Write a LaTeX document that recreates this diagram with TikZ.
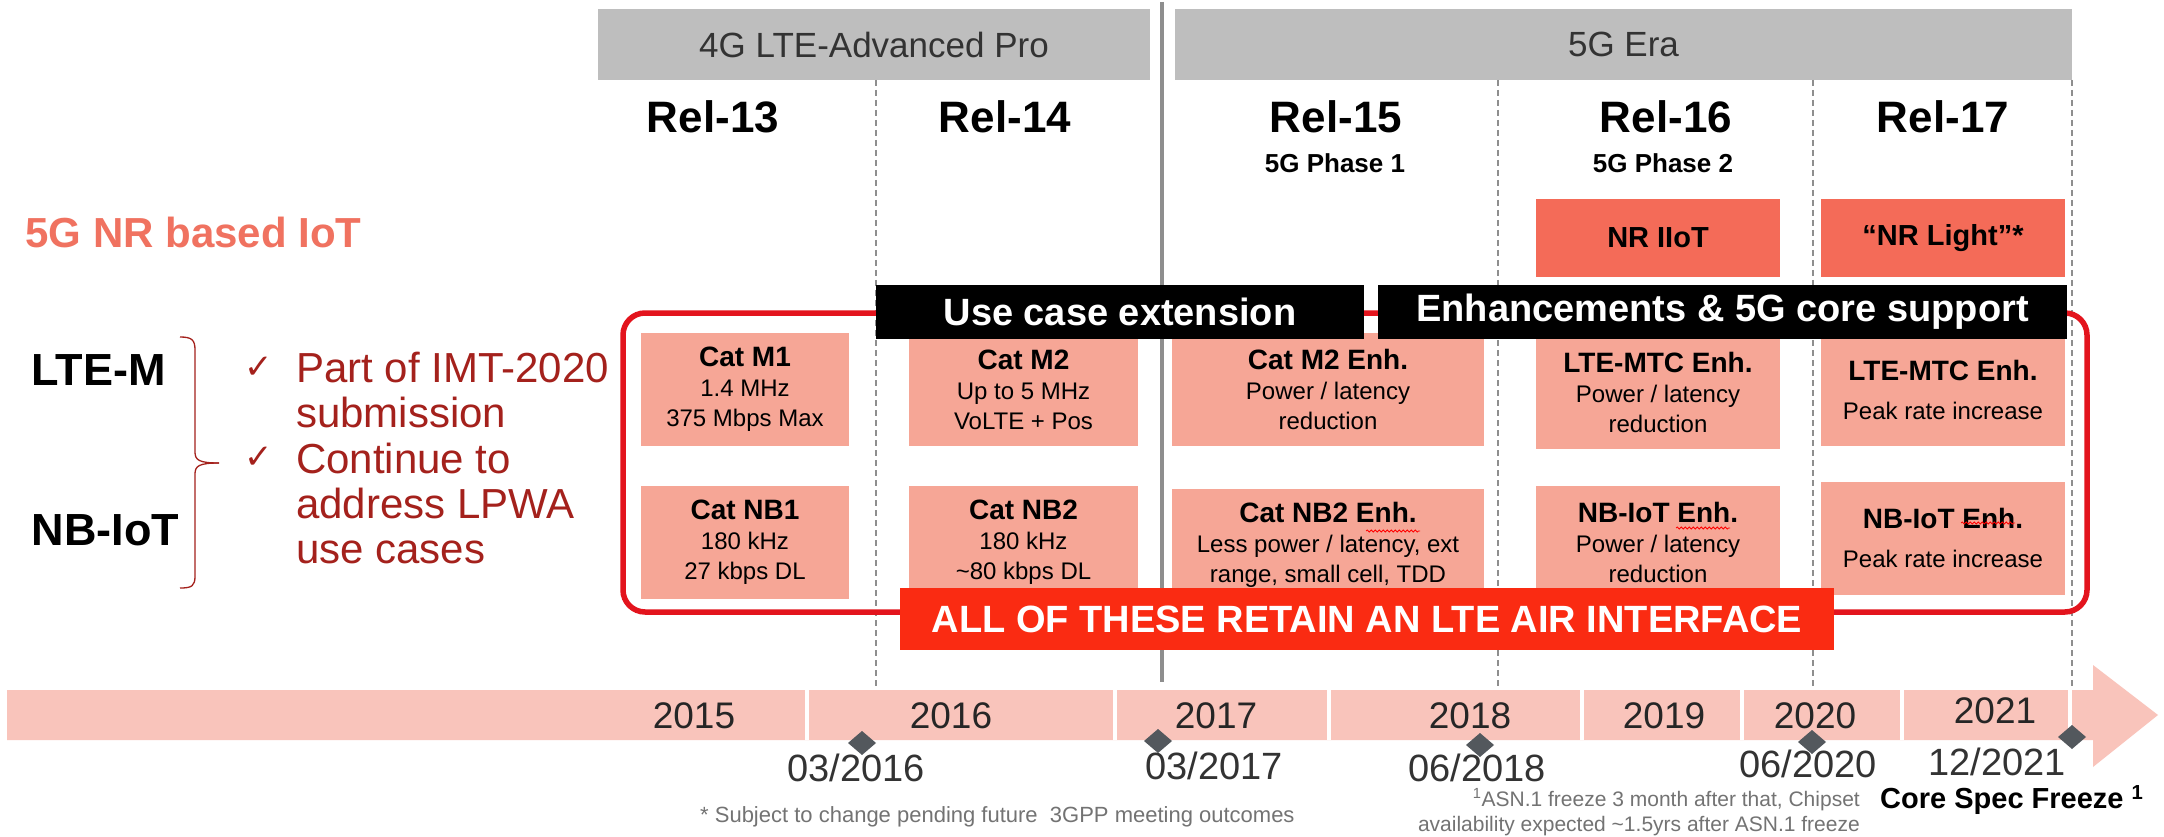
\documentclass[tikz,border=0pt]{standalone}
\usepackage{fontspec}
\setmainfont{Liberation Sans}
\newfontfamily\symbolfont{DejaVu Sans}
\usetikzlibrary{decorations.pathmorphing}

\definecolor{eragray}{HTML}{BEBEBE}
\definecolor{catpink}{HTML}{F6A696}
\definecolor{nrsalmon}{HTML}{F46B58}
\definecolor{iotsalmon}{HTML}{F07260}
\definecolor{framered}{HTML}{E3141D}
\definecolor{allred}{HTML}{FA2B12}
\definecolor{bandpink}{HTML}{F9C4BB}
\definecolor{notered}{HTML}{A4211C}
\definecolor{markgray}{HTML}{53585D}
\definecolor{linegray}{HTML}{8E8E8E}

\newcommand\ttl[1]{{\bfseries\fontsize{28}{30}\selectfont #1}}

\begin{document}
\begin{tikzpicture}[x=1pt, y=-1pt,
  era/.style={fill=eragray, text=black!80, inner sep=0pt, font=\fontsize{35}{40}\selectfont},
  rel/.style={font=\bfseries\fontsize{44}{50}\selectfont},
  phase/.style={font=\bfseries\fontsize{26}{30}\selectfont},
  cat/.style={fill=catpink, align=center, inner sep=0pt, font=\fontsize{24}{30}\selectfont},
  nr/.style={fill=nrsalmon, inner sep=0pt, minimum width=244pt, minimum height=78pt, font=\bfseries\fontsize{29}{34}\selectfont},
  tag/.style={fill=black, text=white, inner sep=0pt, minimum height=54pt, font=\bfseries\fontsize{38}{44}\selectfont},
  tech/.style={anchor=west, font=\bfseries\fontsize{45}{50}\selectfont},
  check/.style={text=notered, font=\symbolfont\fontsize{34}{40}\selectfont},
  bullet/.style={anchor=north west, align=left, inner sep=0pt, text=notered, font=\fontsize{42}{45}\selectfont},
  year/.style={text=black!85, font=\fontsize{37}{40}\selectfont},
  date/.style={text=black!80, inner sep=0pt, font=\fontsize{38}{40}\selectfont},
  note/.style={text=black!55, inner sep=0pt, font=\fontsize{21}{25}\selectfont},
  squig/.style={red, line width=.8pt, decorate, decoration={snake, amplitude=1pt, segment length=4pt}}
]
\fill[white] (0,0) rectangle (2164,837);
\useasboundingbox (0,0) rectangle (2164,837);

\node[era, minimum width=552pt, minimum height=71pt] (lte) at (874,44.5) {4G LTE-Advanced Pro};
\node[era, minimum width=897pt, minimum height=71pt] (nr5g) at (1623.5,44.5) {5G Era};

\draw[linegray, line width=3.5] (1162,2)--(1162,682);
\foreach \x in {876,1498,1813,2072}
{
    \draw[linegray, line width=1.4, dash pattern=on 6pt off 4pt] (\x,80)--(\x,690);
}

\node[rel] (r13) at (713,117){Rel-13};
\node[rel] (r14) at (1005,117){Rel-14};
\node[rel] (r15) at (1336,117){Rel-15};
\node[rel] (r16) at (1666,117){Rel-16};
\node[rel] (r17) at (1943,117){Rel-17};
\node[phase] (p1) at (1335,163){5G Phase 1};
\node[phase] (p2) at (1663,163){5G Phase 2};

\node[nr] (iiot) at (1658,238){NR IIoT};
\node[nr] (light) at (1943,238){“NR Light”*};
\node[anchor=west, text=iotsalmon, font=\bfseries\fontsize{42}{48}\selectfont] (nriot) at (22,232){5G NR based IoT};

\draw[framered, line width=5.5, rounded corners=22] (623,313) rectangle (2087,612);

\node[cat, minimum width=208pt, minimum height=113pt] (m1) at (745,389.5){\ttl{Cat M1}\\1.4 MHz\\375 Mbps Max};
\node[cat, minimum width=229pt, minimum height=113pt] (m2) at (1023.5,389.5){\ttl{Cat M2}\\Up to 5 MHz\\VoLTE + Pos};
\node[cat, minimum width=312pt, minimum height=113pt] (m2e) at (1328,389.5){\ttl{Cat M2 Enh.}\\Power / latency\\reduction};
\node[cat, minimum width=244pt, minimum height=113pt] (mtc16) at (1658,392){\ttl{LTE-MTC Enh.}\\Power / latency\\reduction};
\node[cat, minimum width=244pt, minimum height=113pt] (mtc17) at (1943,389.5){\ttl{LTE-MTC Enh.}\\[9pt]Peak rate increase};

\node[cat, minimum width=208pt, minimum height=113pt] (nb1) at (745,542.5){\ttl{Cat NB1}\\180 kHz\\27 kbps DL};
\node[cat, minimum width=229pt, minimum height=113pt] (nb2) at (1023.5,542.5){\ttl{Cat NB2}\\180 kHz\\\textasciitilde80 kbps DL};
\node[cat, minimum width=312pt, minimum height=113pt] (nb2e) at (1328,545){\ttl{Cat NB2 Enh.}\\Less power / latency, ext\\range, small cell, TDD};
\node[cat, minimum width=244pt, minimum height=113pt] (nb16) at (1658,542.5){\ttl{NB-IoT Enh.}\\Power / latency\\reduction};
\node[cat, minimum width=244pt, minimum height=113pt] (nb17) at (1943,538){\ttl{NB-IoT Enh.}\\[9pt]Peak rate increase};

\draw[squig] (1366,531)--(1420,531);
\draw[squig] (1676,528)--(1730,528);
\draw[squig] (1961,523)--(2015,523);

\node[tag, minimum width=488pt] (usecase) at (1120,312){Use case extension};
\node[tag, minimum width=689pt] (enh) at (1722.5,312){Enhancements \& 5G core support};
\node[fill=allred, text=white, inner sep=0pt, minimum width=934pt, minimum height=62pt, font=\bfseries\fontsize{38}{44}\selectfont] (lteair) at (1367,619){ALL OF THESE RETAIN AN LTE AIR INTERFACE};

\node[tech] (ltem) at (28,370){LTE-M};
\node[tech] (nbiot) at (28,530){NB-IoT};
\draw[notered, line width=1.3] (180,337) .. controls (192,337) and (195,340) .. (195,350) -- (195,452)
    .. controls (195,460) and (199,463) .. (219,463);
\draw[notered, line width=1.3] (219,463) .. controls (199,463) and (195,466) .. (195,474) -- (195,576)
    .. controls (195,586) and (192,588) .. (180,588);
\node[check] (tick1) at (259,368){✓};
\node[check] (tick2) at (259,458){✓};
\node[bullet] (imt) at (296,352){Part of IMT-2020\\submission};
\node[bullet] (lpwa) at (296,443){Continue to\\address LPWA\\use cases};

\fill[bandpink] (7,690)--(2093,690)--(2093,665)--(2158,715)--(2093,767)--(2093,740)--(7,740)--cycle;
\foreach \x in {807,1115,1329,1582,1742,1902,2070}
{
    \draw[white, line width=4] (\x,690)--(\x,740);
}
\foreach \x/\y/\yr in {694/716/2015,951/716/2016,1216/716/2017,1470/716/2018,1664/716/2019,1815/716/2020,1995/711/2021}
{
    \node[year] (y\yr) at (\x,\y){\yr};
}
\foreach \x/\y/\lx/\ly/\m/\yr in {862/743/856/768/03/2016,1158/741/1214/766/03/2017,1480/745/1477/768/06/2018,1812/742/1808/764/06/2020,2072/737/1997/762/12/2021}
{
    \fill[markgray] (\x,\y) +(-14,0)--+(0,-12)--+(14,0)--+(0,12)--cycle;
    \node[date] (d\m\yr) at (\lx,\ly){\m/\yr};
}

\node[note, anchor=west, font=\fontsize{22}{26}\selectfont] (tbc) at (700,817){* Subject to change pending future\ \ 3GPP meeting outcomes};
\node[note, anchor=east, align=right] (asn) at (1860,812){\textsuperscript{1}ASN.1 freeze 3 month after that, Chipset\\availability expected \textasciitilde1.5yrs after ASN.1 freeze};
\node[anchor=west, inner sep=0pt, font=\bfseries\fontsize{29}{34}\selectfont] (freeze) at (1880,800){Core Spec Freeze \textsuperscript{1}};
\end{tikzpicture}
\end{document}
